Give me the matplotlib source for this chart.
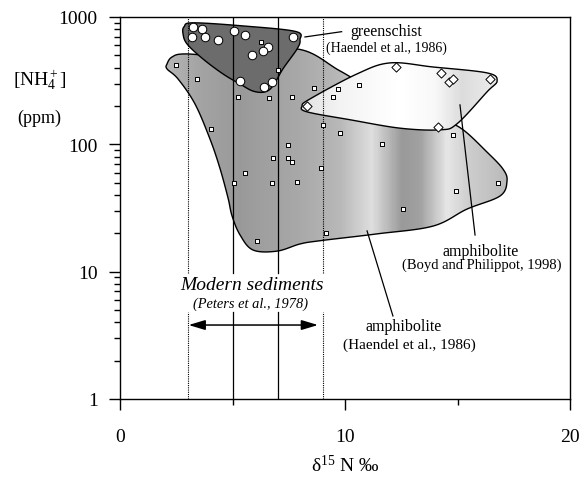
import numpy as np
import matplotlib
matplotlib.use("Agg")
import matplotlib.pyplot as plt
from matplotlib.patches import Polygon
from matplotlib.colors import LinearSegmentedColormap

plt.rcParams['font.family'] = ['Liberation Serif', 'DejaVu Serif']
plt.rcParams['mathtext.fontset'] = 'custom'
plt.rcParams['mathtext.rm'] = 'Liberation Serif'
plt.rcParams['mathtext.it'] = 'Liberation Serif:italic'

# ---------------- data ----------------
# greenschist (Haendel et al., 1986) - circles
gs_x = [3.26, 3.63, 3.21, 3.78, 4.34, 5.07, 5.56, 6.56, 6.34, 5.85, 5.33, 6.40, 6.77, 7.70]
gs_y = [832, 806, 701, 693, 660, 782, 723, 578, 544, 503, 316, 281, 307, 693]

# amphibolite (Haendel et al., 1986) - squares
am_x = [2.49, 3.41, 5.26, 6.62, 7.63, 8.62, 9.48, 9.69, 10.62, 9.04, 4.03, 9.78, 11.63,
        14.81, 8.92, 16.81, 14.93, 12.56, 7.48, 6.81, 7.48, 7.63, 5.56, 5.05, 6.76, 7.85,
        6.10, 9.16, 6.27, 7.04]
am_y = [423, 326, 237, 230, 235, 277, 235, 272, 294, 142, 133, 123, 100,
        119, 65, 50, 43, 31, 98, 78, 78, 73, 60, 50, 50, 51,
        17.5, 20.3, 641, 386]

# amphibolite (Boyd and Philippot, 1998) - diamonds
bp_x = [12.27, 14.25, 14.62, 14.81, 16.44, 8.30, 14.12]
bp_y = [408, 362, 307, 326, 326, 201, 136]

# field outlines
gs_poly_x = [2.85, 3.25, 5.5, 7.80, 8.00, 7.87, 7.24, 6.80, 6.44, 5.91, 5.33, 4.58, 3.69, 2.98, 2.80]
gs_poly_y = [840, 900, 850, 770, 660, 561, 391, 288, 258, 262, 298, 357, 468, 614, 740]

am_poly_x = [2.09, 2.31, 2.89, 4.89, 7.87, 9.78, 11.56, 14.22, 15.20, 16.31, 17.02, 17.20,
             16.89, 15.42, 13.91, 11.42, 8.89, 8.00, 6.98, 5.91, 5.33, 4.98, 4.80, 4.44, 4.00,
             3.33, 2.58, 2.09]
am_poly_y = [428, 485, 513, 494, 561, 377, 249, 158, 132, 87, 64, 51.5,
             39.3, 31, 22.8, 19.8, 17.5, 16.5, 14.5, 14.8, 19.5, 27.4, 38, 65, 110,
             208, 326, 391]

bp_poly_x = [8.09, 8.44, 10.53, 12.00, 13.91, 16.31, 16.76, 16.31, 14.98, 14.22, 12.44, 10.22, 8.31]
bp_poly_y = [200, 227, 357, 436, 405, 364, 315, 258, 145, 130, 134, 156, 180]

xticks = [0, 10, 20]
yticks = [1, 10, 100, 1000]
ytick_labels = ['1', '10', '100', '1000']
sed_range = [3, 9]
sed_lines = [5, 7]

# ---------------- helpers ----------------
def smooth(xs, ys, n=16):
    u = np.array(xs, float) * 22.5
    v = np.log10(np.array(ys, float)) * 127.3
    P = np.column_stack([u, v])
    m = len(P)
    out = []
    for i in range(m):
        p0, p1, p2, p3 = P[(i - 1) % m], P[i], P[(i + 1) % m], P[(i + 2) % m]
        for t in np.linspace(0, 1, n, endpoint=False):
            t2, t3 = t * t, t * t * t
            pt = 0.5 * ((2 * p1) + (-p0 + p2) * t + (2 * p0 - 5 * p1 + 4 * p2 - p3) * t2
                        + (-p0 + 3 * p1 - 3 * p2 + p3) * t3)
            out.append(pt)
    out = np.array(out)
    return np.column_stack([out[:, 0] / 22.5, 10 ** (out[:, 1] / 127.3)])

fig = plt.figure(figsize=(5.79, 4.81), dpi=100)
ax = fig.add_axes([120 / 579, 1 - 400 / 481, 450 / 579, 382 / 481])
ax.set_yscale('log')
ax.set_xlim(0, 20)
ax.set_ylim(1, 1000)

gray = LinearSegmentedColormap.from_list('g', [(0, 0, 0), (1, 1, 1)])
X = np.linspace(0, 20, 401)
xc = 0.5 * (X[:-1] + X[1:])

# amphibolite Haendel field with banded gradient
am_pts = smooth(am_poly_x, am_poly_y)
ax.add_patch(Polygon(am_pts, closed=True, facecolor='none', edgecolor='black', lw=1.0, zorder=3))
stops_px = [160, 200, 240, 300, 340, 372, 402, 420, 447, 470, 510]
stops_v = [0.72, 0.64, 0.60, 0.66, 0.72, 0.87, 0.60, 0.63, 0.90, 0.80, 0.72]
vals = np.interp(xc * 22.5 + 120, stops_px, stops_v)
mesh = ax.pcolormesh(X, [1, 1000], vals[None, :], cmap=gray, vmin=0, vmax=1,
                     shading='flat', zorder=2)
clip1 = Polygon(am_pts, closed=True, transform=ax.transData, facecolor='none', edgecolor='none')
ax.add_patch(clip1)
mesh.set_clip_path(clip1)

# greenschist field
gs_pts = smooth(gs_poly_x, gs_poly_y)
ax.add_patch(Polygon(gs_pts, closed=True, facecolor='#6c6c6c', edgecolor='black', lw=1.0, zorder=4))

# Boyd field with light gradient
bp_pts = smooth(bp_poly_x, bp_poly_y)
ax.add_patch(Polygon(bp_pts, closed=True, facecolor='none', edgecolor='black', lw=1.0, zorder=5))
stops2_px = [300, 340, 400, 435, 462, 500]
stops2_v = [0.88, 0.95, 1.0, 0.97, 0.86, 0.93]
vals2 = np.interp(xc * 22.5 + 120, stops2_px, stops2_v)
mesh2 = ax.pcolormesh(X, [1, 1000], vals2[None, :], cmap=gray, vmin=0, vmax=1,
                      shading='flat', zorder=4.5)
clip2 = Polygon(bp_pts, closed=True, transform=ax.transData, facecolor='none', edgecolor='none')
ax.add_patch(clip2)
mesh2.set_clip_path(clip2)

# vertical lines (interrupted by the label)
y_gap_top, y_gap_bot = 9.77, 4.83
for xv in sed_range:
    ax.plot([xv, xv], [y_gap_top, 1000], ls=(0, (1, 1)), color='black', lw=0.8, zorder=6)
    ax.plot([xv, xv], [1, y_gap_bot], ls=(0, (1, 1)), color='black', lw=0.8, zorder=6)
for xv in sed_lines:
    ax.plot([xv, xv], [y_gap_top, 1000], color='black', lw=0.9, zorder=6)
    ax.plot([xv, xv], [1, y_gap_bot], color='black', lw=0.9, zorder=6)

# arrow
ax.annotate('', xy=(sed_range[0] + 0.05, 3.81), xytext=(sed_range[1] - 0.2, 3.81),
            arrowprops=dict(arrowstyle='<|-|>,head_length=1.0,head_width=0.3',
                            color='black', lw=1.1, shrinkA=0, shrinkB=0), zorder=7)
ax.text(5.87, 8.0, 'Modern sediments', style='italic', fontsize=14, ha='center', va='center', zorder=7)
ax.text(5.78, 5.68, '(Peters et al., 1978)', style='italic', fontsize=10.4, ha='center', va='center', zorder=7)

# markers
ax.scatter(am_x, am_y, marker='s', s=11, facecolor='white', edgecolor='black', lw=0.7, zorder=8)
ax.scatter(gs_x, gs_y, marker='o', s=38, facecolor='white', edgecolor='black', lw=0.7, zorder=8)
ax.scatter(bp_x, bp_y, marker='D', s=22, facecolor='white', edgecolor='black', lw=0.7, zorder=8)

# annotations
ax.plot([8.22, 9.85], [697, 767], color='black', lw=0.9, zorder=7)
ax.text(11.85, 777, 'greenschist', fontsize=11.5, ha='center', va='center')
ax.text(11.82, 582, '(Haendel et al., 1986)', fontsize=10, ha='center', va='center')

ax.plot([15.11, 15.78], [204, 19.4], color='black', lw=0.9, zorder=7)
ax.text(16.04, 14.5, 'amphibolite', fontsize=11.5, ha='center', va='center')
ax.text(16.09, 11.4, '(Boyd and Philippot, 1998)', fontsize=10.5, ha='center', va='center')

ax.plot([10.98, 12.13], [20.9, 4.49], color='black', lw=0.9, zorder=7)
ax.text(12.62, 3.74, 'amphibolite', fontsize=11.5, ha='center', va='center')
ax.text(12.84, 2.70, '(Haendel et al., 1986)', fontsize=11, ha='center', va='center')

# axes styling
ax.set_xticks(xticks)
ax.set_xticklabels([str(t) for t in xticks])
ax.set_xticks([5, 15], minor=True)
ax.set_yticks(yticks)
ax.set_yticklabels(ytick_labels)
ax.tick_params(axis='both', which='major', direction='out', length=8, width=1, labelsize=14)
ax.tick_params(axis='both', which='minor', direction='out', length=4, width=1)
ax.tick_params(axis='y', which='major', pad=8)
ax.tick_params(axis='x', which='major', pad=13)
ax.tick_params(axis='y', which='minor', labelleft=False)
for s in ax.spines.values():
    s.set_linewidth(1.0)

fig.text(345 / 579, 1 - 466 / 481, r'δ$^{15}$ N ‰', fontsize=14, ha='center', va='center')
fig.text(40 / 579, 1 - 80 / 481, r'[NH$_4^+$]', fontsize=14, ha='center', va='center')
fig.text(39 / 579, 1 - 118 / 481, '(ppm)', fontsize=13, ha='center', va='center')

fig.savefig('out.png', dpi=100)
